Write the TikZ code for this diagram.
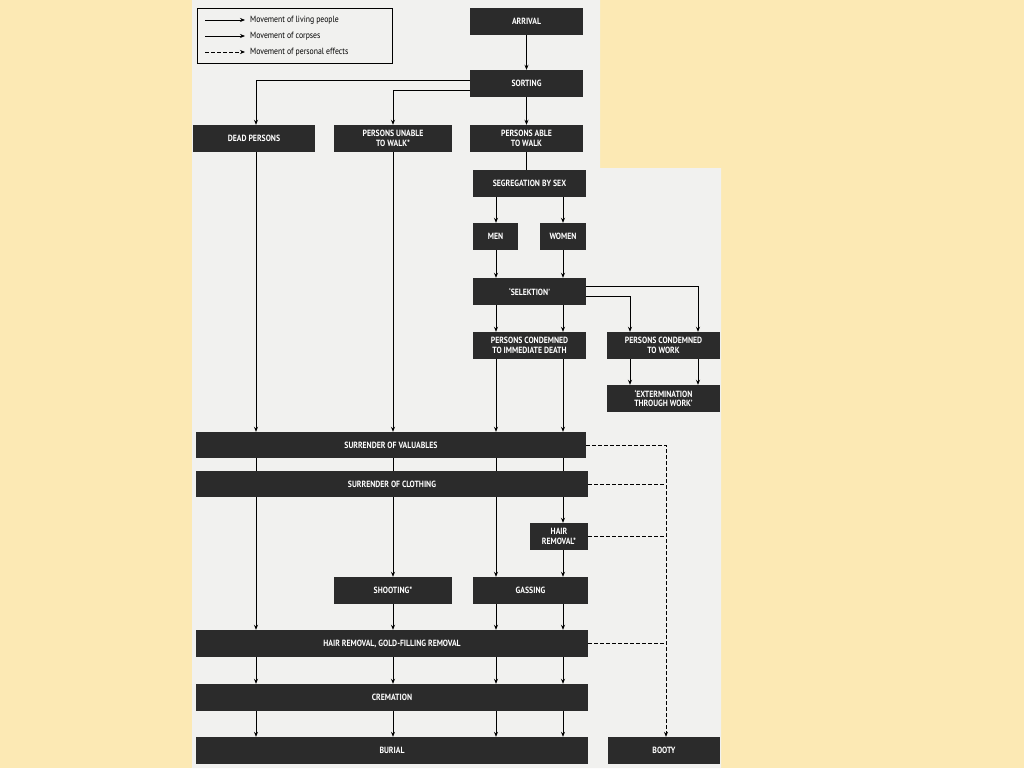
\documentclass[tikz,border=0pt]{standalone}
\usepackage{fontspec}
\setmainfont{PT Sans}[FakeStretch=0.86]
\usetikzlibrary{arrows.meta}
\definecolor{cream}{HTML}{FCE9B4}
\definecolor{paper}{HTML}{F1F1EF}
\definecolor{boxc}{HTML}{2B2B2B}
\tikzset{
 bx/.style={fill=boxc,text=white,font=\bfseries\fontsize{9}{9.5}\selectfont,align=center,inner sep=0pt,minimum height=27pt},
 arr/.style={-{Stealth[length=5pt,width=4pt]},line width=0.7pt},
 ln/.style={line width=0.7pt},
 dsh/.style={dashed,dash pattern=on 3.5pt off 2.5pt,line width=0.7pt},
}
\begin{document}
\begin{tikzpicture}[x=1pt,y=-1pt]
\useasboundingbox (0,0) rectangle (1024,768);
\fill[cream] (0,0) rectangle (1024,768);
\fill[paper] (192,0) -- (600,0) -- (600,168) -- (721,168) -- (721,768) -- (192,768) -- cycle;
% legend
\node[draw,line width=0.6pt,minimum width=195pt,minimum height=55pt,inner sep=0pt] (leg) at (294.5,35.5) {};
\coordinate (l1a) at (205,20); \coordinate (l1b) at (245,20);
\coordinate (l2a) at (205,36); \coordinate (l2b) at (245,36);
\coordinate (l3a) at (205,52); \coordinate (l3b) at (245,52);
\draw[arr] (l1a) -- (l1b);
\draw[arr] (l2a) -- (l2b);
\draw[arr,dsh] (l3a) -- (l3b);
\tikzset{lt/.style={anchor=west,font=\fontsize{9}{10}\selectfont,inner sep=0pt}}
\node[lt] (t1) at (250,20) {Movement of living people};
\node[lt] (t2) at (250,36) {Movement of corpses};
\node[lt] (t3) at (250,52) {Movement of personal effects};
% boxes
\node[bx,minimum width=113pt] (arr) at (526.5,21.5) {ARRIVAL};
\node[bx,minimum width=113pt] (sort) at (526.5,83.5) {SORTING};
\node[bx,minimum width=122pt] (dead) at (254,138.5) {DEAD PERSONS};
\node[bx,minimum width=118pt] (unab) at (393,138.5) {PERSONS UNABLE\\TO WALK*};
\node[bx,minimum width=113pt] (able) at (526.5,138.5) {PERSONS ABLE\\TO WALK};
\node[bx,minimum width=113pt] (seg) at (529.5,183.5) {SEGREGATION BY SEX};
\node[bx,minimum width=45pt] (men) at (495.5,236.5) {MEN};
\node[bx,minimum width=46pt] (wom) at (563,236.5) {WOMEN};
\node[bx,minimum width=113pt] (sel) at (529.5,291.5) {‘SELEKTION’};
\node[bx,minimum width=113pt] (cd) at (529.5,345.5) {PERSONS CONDEMNED\\TO IMMEDIATE DEATH};
\node[bx,minimum width=113pt] (cw) at (663.5,345.5) {PERSONS CONDEMNED\\TO WORK};
\node[bx,minimum width=113pt] (ext) at (663.5,398.5) {‘EXTERMINATION\\THROUGH WORK’};
\node[bx,minimum width=390pt,minimum height=26pt] (val) at (391,445) {SURRENDER OF VALUABLES};
\node[bx,minimum width=392pt,minimum height=26pt] (clo) at (392,484) {SURRENDER OF CLOTHING};
\node[bx,minimum width=58pt] (hair) at (559,536.5) {HAIR\\REMOVAL*};
\node[bx,minimum width=118pt] (shoot) at (393,590.5) {SHOOTING*};
\node[bx,minimum width=115pt] (gas) at (530.5,590.5) {GASSING};
\node[bx,minimum width=392pt] (gold) at (392,643.5) {HAIR REMOVAL, GOLD-FILLING REMOVAL};
\node[bx,minimum width=392pt] (crem) at (392,697.5) {CREMATION};
\node[bx,minimum width=392pt] (bur) at (392,750.5) {BURIAL};
\node[bx,minimum width=112pt] (boo) at (664,750.5) {BOOTY};
% columns
\coordinate (cA) at (256,0);
\coordinate (cB) at (393,0);
\coordinate (cC) at (496,0);
\coordinate (cD) at (563,0);
\coordinate (cE) at (630,0);
\coordinate (cF) at (698,0);
\coordinate (cG) at (666,0);
\coordinate (cS) at (526.5,0);
% top
\draw[arr] (arr) -- (sort);
\draw[arr] (sort) -- (able);
\draw[arr] (sort.west |- 0,80) -| (cA |- dead.north);
\draw[arr] (sort.west |- 0,90) -| (cB |- unab.north);
\draw[ln] (cS |- able.south) -- (cS |- seg.north);
\draw[arr] (cC |- seg.south) -- (cC |- men.north);
\draw[arr] (cD |- seg.south) -- (cD |- wom.north);
\draw[arr] (cC |- men.south) -- (cC |- sel.north);
\draw[arr] (cD |- wom.south) -- (cD |- sel.north);
\draw[arr] (cC |- sel.south) -- (cC |- cd.north);
\draw[arr] (cD |- sel.south) -- (cD |- cd.north);
\draw[arr] (sel.east |- 0,286) -| (cF |- cw.north);
\draw[arr] (sel.east |- 0,296) -| (cE |- cw.north);
\draw[arr] (cE |- cw.south) -- (cE |- ext.north);
\draw[arr] (cF |- cw.south) -- (cF |- ext.north);
% to valuables
\draw[arr] (cA |- dead.south) -- (cA |- val.north);
\draw[arr] (cB |- unab.south) -- (cB |- val.north);
\draw[arr] (cC |- cd.south) -- (cC |- val.north);
\draw[arr] (cD |- cd.south) -- (cD |- val.north);
% valuables -> clothing
\foreach \c in {cA,cB,cC,cD} \draw[ln] (\c |- val.south) -- (\c |- clo.north);
% clothing down
\draw[arr] (cA |- clo.south) -- (cA |- gold.north);
\draw[arr] (cB |- clo.south) -- (cB |- shoot.north);
\draw[arr] (cC |- clo.south) -- (cC |- gas.north);
\draw[arr] (cD |- clo.south) -- (cD |- hair.north);
\draw[arr] (cD |- hair.south) -- (cD |- gas.north);
\draw[arr] (cB |- shoot.south) -- (cB |- gold.north);
\draw[arr] (cC |- gas.south) -- (cC |- gold.north);
\draw[arr] (cD |- gas.south) -- (cD |- gold.north);
\foreach \c in {cA,cB,cC,cD} {
 \draw[arr] (\c |- gold.south) -- (\c |- crem.north);
 \draw[arr] (\c |- crem.south) -- (\c |- bur.north);
}
% dashed
\draw[dsh,-{Stealth[length=5pt,width=4pt]}] (val.east) -| (cG |- boo.north);
\draw[dsh] (clo.east) -- (cG |- clo.east);
\draw[dsh] (hair.east) -- (cG |- hair.east);
\draw[dsh] (gold.east) -- (cG |- gold.east);
\end{tikzpicture}
\end{document}
